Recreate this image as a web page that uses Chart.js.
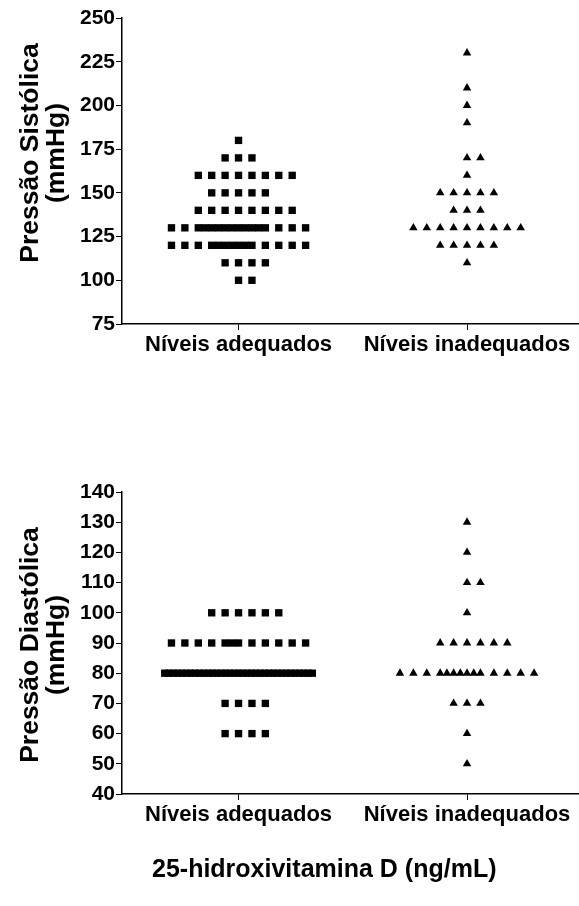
<!DOCTYPE html>
<html>
<head>
<meta charset="utf-8">
<script src="https://cdn.jsdelivr.net/npm/chart.js@4.4.1/dist/chart.umd.min.js"></script>
<style>
  html, body { margin: 0; padding: 0; background: #fff; }
  body { width: 579px; height: 906px; position: relative; overflow: hidden; }
  .box { position: absolute; left: 0; width: 579px; }
  .ttl { position: absolute; color: #000; font: bold 26.5px "Liberation Sans", Arial, sans-serif; white-space: nowrap; }
  .ytl { width: 320px; height: 52px; line-height: 26px; text-align: center; transform: rotate(-90deg); transform-origin: 50% 50%; }
  #xtitle { left: 152px; top: 853px; font-size: 25px; line-height: 30px; }
</style>
</head>
<body>
<div class="box" id="b1" style="top:0;height:370px"><canvas id="c1"></canvas></div>
<div class="box" id="b2" style="top:452px;height:454px"><canvas id="c2"></canvas></div>
<div class="ttl ytl" id="ytitle1" style="left:-118px;top:127px"></div>
<div class="ttl ytl" id="ytitle2" style="left:-118px;top:619px"></div>
<div class="ttl" id="xtitle"></div>
<script>
// ---- data ----
const categories = ['Níveis adequados', 'Níveis inadequados'];
const xAxisTitle = '25-hidroxivitamina D (ng/mL)';
const sysTitle = ['Pressão Sistólica', '(mmHg)'];
const diaTitle = ['Pressão Diastólica', '(mmHg)'];

// Systolic pressure (mmHg): value levels and number of subjects at each level
const sysLevels          = [230, 210, 200, 190, 180, 170, 160, 150, 140, 130, 120, 110, 100];
const sysAdequateCounts  = [  0,   0,   0,   0,   1,   3,   8,   5,   8,  16,  14,   4,   2];
const sysInadequateCounts= [  1,   1,   1,   1,   0,   2,   1,   5,   3,   9,   5,   1,   0];
const sysTicks = [75, 100, 125, 150, 175, 200, 225, 250];

// Diastolic pressure (mmHg)
const diaLevels          = [130, 120, 110, 100, 90, 80, 70, 60, 50];
const diaAdequateCounts  = [  0,   0,   0,   6, 12, 35,  4,  4,  0];
const diaInadequateCounts= [  1,   1,   2,   1,  6, 14,  3,  1,  1];
const diaTicks = [40, 50, 60, 70, 80, 90, 100, 110, 120, 130, 140];

// ---- layout helpers ----
const FONT = '"Liberation Sans", Arial, Helvetica, sans-serif';
const SLOT = 0.0587;     // horizontal spacing between stacked points (axis units)
const MAX_SIDE = 5;      // regular slots on each side of the column centre

function rowOffsets(n) {
  const out = [];
  const regular = Math.min(n, 2 * MAX_SIDE + 1);
  for (let i = 0; i < regular; i++) out.push(i === 0 ? 0 : (i % 2 ? (i + 1) / 2 : -i / 2));
  const extra = n - regular;
  if (extra > 0) {
    if (extra <= 2 * MAX_SIDE + 2) {
      for (let k = 0; k < extra; k++) {
        const m = Math.floor(k / 2) + 0.5;
        out.push(k % 2 ? m : -m);
      }
    } else {
      out.length = 0;
      const span = MAX_SIDE + 0.5;
      for (let k = 0; k < n; k++) out.push(-span + (2 * span) * k / (n - 1));
    }
  }
  return out;
}

function buildPoints(levels, counts, group) {
  const pts = [];
  levels.forEach((v, i) => {
    rowOffsets(counts[i]).forEach(o => pts.push({ x: group + o * SLOT, y: v }));
  });
  return pts;
}

function makeChart(canvasId, cfg) {
  const datasets = [
    { label: categories[0], data: buildPoints(cfg.levels, cfg.adequate, 0),
      pointStyle: 'rect', pointRadius: 5.2, pointHoverRadius: 5.2,
      backgroundColor: '#000', borderWidth: 0 },
    { label: categories[1], data: buildPoints(cfg.levels, cfg.inadequate, 1),
      pointStyle: 'triangle', pointRadius: 4.9, pointHoverRadius: 4.9,
      backgroundColor: '#000', borderWidth: 0 }
  ];
  return new Chart(document.getElementById(canvasId), {
    type: 'scatter',
    data: { datasets },
    options: {
      responsive: true,
      maintainAspectRatio: false,
      animation: false,
      events: [],
      layout: { autoPadding: false, padding: { top: cfg.padTop, left: 0, right: 0, bottom: 0 } },
      plugins: { legend: { display: false }, tooltip: { enabled: false } },
      scales: {
        x: {
          type: 'linear', min: -0.51, max: 1.49,
          afterBuildTicks: s => { s.ticks = categories.map((c, i) => ({ value: i })); },
          afterFit: s => { s.height = cfg.xHeight; s.paddingLeft = 0; s.paddingRight = 0; },
          ticks: {
            color: '#000', padding: 2, maxRotation: 0, autoSkip: false,
            font: { family: FONT, size: 22, weight: 'bold' },
            callback: v => categories[v]
          },
          grid: { display: true, drawOnChartArea: false, drawTicks: true, tickLength: 6, color: '#000', lineWidth: 1 },
          border: { display: true, color: '#000', width: 1.5 }
        },
        y: {
          type: 'linear', min: cfg.ticks[0], max: cfg.ticks[cfg.ticks.length - 1],
          afterBuildTicks: s => { s.ticks = cfg.ticks.map(v => ({ value: v })); },
          afterFit: s => { s.width = 122; },
          ticks: {
            color: '#000', padding: 1,
            font: { family: FONT, size: 21, weight: 'bold' }
          },
          grid: { display: true, drawOnChartArea: false, drawTicks: true, tickLength: 6, color: '#000', lineWidth: 1 },
          border: { display: true, color: '#000', width: 1.5 }
        }
      }
    }
  });
}

makeChart('c1', {
  levels: sysLevels, adequate: sysAdequateCounts, inadequate: sysInadequateCounts,
  ticks: sysTicks, padTop: 18, xHeight: 46
});
makeChart('c2', {
  levels: diaLevels, adequate: diaAdequateCounts, inadequate: diaInadequateCounts,
  ticks: diaTicks, padTop: 40, xHeight: 112
});
document.getElementById('ytitle1').innerHTML = sysTitle.join('<br>');
document.getElementById('ytitle2').innerHTML = diaTitle.join('<br>');
document.getElementById('xtitle').textContent = xAxisTitle;
</script>
</body>
</html>
